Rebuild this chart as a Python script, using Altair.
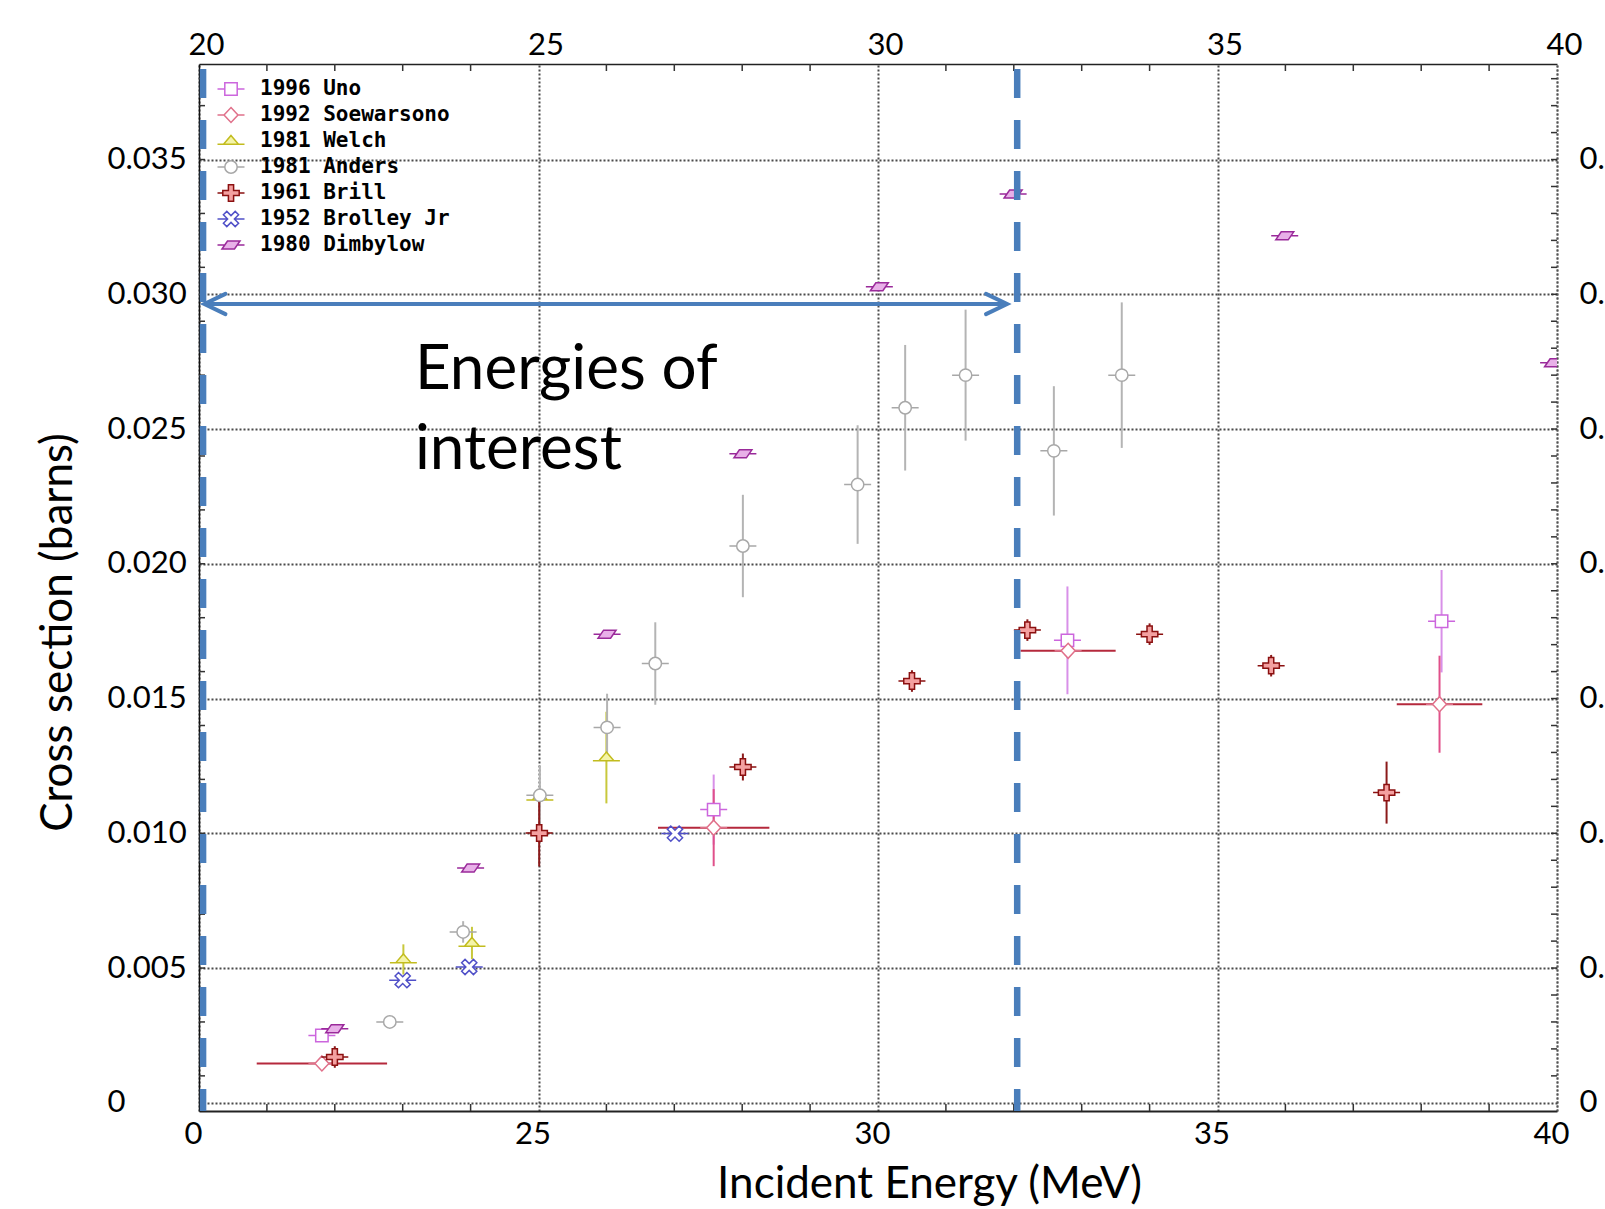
import altair as alt
import pandas as pd

# ---------------- data ----------------
SERIES = ["1996 Uno", "1992 Soewarsono", "1981 Welch", "1981 Anders",
          "1961 Brill", "1952 Brolley Jr", "1980 Dimbylow"]

uno_E = [21.81, 27.58, 32.79, 38.30]
uno_cs = [0.00250, 0.01088, 0.01716, 0.01787]
uno_dcs = [0.0, 0.0013, 0.0020, 0.0019]

soew_E = [21.81, 27.58, 32.80, 38.27]
soew_cs = [0.00146, 0.01021, 0.01677, 0.01479]
soew_dcs = [0.0, 0.00143, 0.0, 0.0018]
soew_dE = [0.96, 0.82, 0.70, 0.63]

welch_E = [23.01, 24.02, 25.02, 26.00]
welch_cs = [0.00532, 0.00593, 0.01135, 0.01281]
welch_dcs = [0.00056, 0.0006, 0.0, 0.0017]

anders_E = [22.81, 23.89, 25.02, 26.01, 26.72, 28.01, 29.70, 30.40, 31.29, 32.59, 33.59]
anders_cs = [0.0030, 0.00634, 0.01141, 0.01393, 0.0163, 0.02066, 0.02294,
             0.02579, 0.0270, 0.02419, 0.0270]
anders_dcs = [0.0, 0.0004, 0.0011, 0.00125, 0.00153, 0.0019, 0.0022,
              0.00233, 0.00243, 0.0024, 0.0027]

brill_E = [22.00, 25.01, 28.01, 30.50, 32.20, 34.00, 35.79, 37.49]
brill_cs = [0.0017, 0.01001, 0.01246, 0.01565, 0.01754, 0.01739, 0.01622, 0.01151]
brill_dcs = [0.0004, 0.00124, 0.0005, 0.0004, 0.0004, 0.0004, 0.0004, 0.00115]

brolley_E = [23.00, 23.98, 27.01]
brolley_cs = [0.00455, 0.00504, 0.00999]

dimby_E = [22.00, 24.00, 26.01, 28.01, 30.02, 31.99, 35.99, 39.95]
dimby_cs = [0.00275, 0.00871, 0.01739, 0.02408, 0.03028, 0.03372, 0.03217, 0.02746]

# annotation values
interest_E = [20.06, 32.05]           # dashed limits of the energy window
arrow_E = [20.08, 31.90]
arrow_cs = 0.02964
note_E = 23.18
note_cs = 0.02648
note_text = "Energies of\ninterest"

x_ticks = [20, 25, 30, 35, 40]
y_ticks = [0, 0.005, 0.010, 0.015, 0.020, 0.025, 0.030, 0.035]
x_minor = [21, 22, 23, 24, 26, 27, 28, 29, 31, 32, 33, 34, 36, 37, 38, 39]
y_minor = [round(0.001 * i, 3) for i in range(1, 39)]

# ---------------- table ----------------
rows = []
def add(name, E, cs, dcs=None, dE=None):
    for i in range(len(E)):
        rows.append({"series": name, "E": E[i], "cs": cs[i],
                     "dcs": dcs[i] if dcs else 0.0,
                     "dE": dE[i] if dE else 0.0})

add("1996 Uno", uno_E, uno_cs, uno_dcs)
add("1992 Soewarsono", soew_E, soew_cs, soew_dcs, soew_dE)
add("1981 Welch", welch_E, welch_cs, welch_dcs)
add("1981 Anders", anders_E, anders_cs, anders_dcs)
add("1961 Brill", brill_E, brill_cs, brill_dcs)
add("1952 Brolley Jr", brolley_E, brolley_cs)
add("1980 Dimbylow", dimby_E, dimby_cs)
df = pd.DataFrame(rows)

# ---------------- styles ----------------
W, H = 1358, 1047
FONT = "Lato"
BLUE = "#4a7ebb"

STROKES = ["#cc66dd", "#e0708a", "#c2bc1e", "#a8a8a8", "#8b1010", "#5050c8", "#9a2a9a"]
FILLS = ["#ffffff", "#ffffff", "#f4f4a8", "#ffffff", "#f4a0a0", "#ffffff", "#e8b0e8"]
ERR_KEYS = [s + " err" for s in SERIES]
ERRS = ["#d890e8", "#e0508a", "#c8c83c", "#b4b4b4", "#8b1a1a", "#6070c0", "#a040a0"]
SHAPES = [
    "M-0.62,-0.62H0.62V0.62H-0.62Z M-1.35,0H-0.62 M0.62,0H1.35",
    "M0,-0.75L0.7,0L0,0.75L-0.7,0Z M-1.35,0H-0.7 M0.7,0H1.35",
    "M0,-0.55L0.75,0.32H-0.75Z M-1.35,0.32H-0.75 M0.75,0.32H1.35",
    "M0.62,0A0.62,0.62,0,1,1,-0.62,0A0.62,0.62,0,1,1,0.62,0Z M-1.35,0H-0.62 M0.62,0H1.35",
    "M-0.26,-0.82H0.26V-0.26H0.82V0.26H0.26V0.82H-0.26V0.26H-0.82V-0.26H-0.26Z M-1.35,0H-0.82 M0.82,0H1.35",
    "M0.42,-0.76L0.76,-0.42L0.34,0L0.76,0.42L0.42,0.76L0,0.34L-0.42,0.76L-0.76,0.42L-0.34,0L-0.76,-0.42L-0.42,-0.76L0,-0.34Z M-1.35,0H-0.34 M0.34,0H1.35",
    "M-0.9,0.4L-0.35,-0.4H0.9L0.35,0.4Z M-1.35,0H-0.625 M0.625,0H1.35",
]

xs = alt.Scale(domain=[20, 40], nice=False, zero=False)
ys = alt.Scale(domain=[-0.000304, 0.038545], nice=False, zero=False)

GRID = dict(gridColor="#4a4a4a", gridDash=[2, 2], gridWidth=2)

bottom_axis = alt.Axis(orient="bottom", values=x_ticks, grid=False, ticks=False, tickSize=0,
                       labelPadding=23, labelBaseline="middle", labelOffset=-6,
                       labelExpr="datum.value == 20 ? '0' : datum.label",
                       labelFont=FONT, labelFontSize=31, labelColor="black",
                       labelFlush=False, labelOverlap=False,
                       domain=True, domainColor="#222", domainWidth=2,
                       title="Incident Energy (MeV)", titleFont=FONT, titleFontSize=44,
                       titleFontWeight="normal", titleColor="black",
                       titleX=730, titleY=73, titleAlign="center", titleBaseline="middle")
top_axis = alt.Axis(orient="top", values=x_ticks, grid=True, **GRID, ticks=False, tickSize=0,
                    labelPadding=19, labelBaseline="middle", labelOffset=7,
                    labelFont=FONT, labelFontSize=31, labelColor="black",
                    labelFlush=False, labelOverlap=False,
                    domain=True, domainColor="#222", domainWidth=1.5, title=None)
left_axis = alt.Axis(orient="left", values=y_ticks, grid=True, **GRID, ticks=False, tickSize=0,
                     labelPadding=92, labelAlign="left", labelBaseline="middle",
                     labelExpr="datum.value == 0 ? '0' : format(datum.value, '.3f')",
                     labelFont=FONT, labelFontSize=31, labelColor="black",
                     labelFlush=False, labelOverlap=False,
                     domain=True, domainColor="#111", domainWidth=1.5,
                     title="Cross section (barns)", titleFont=FONT, titleFontSize=44,
                     titleFontWeight="normal", titleColor="black", titleAngle=270,
                     titleX=-141, titleY=568, titleAlign="center", titleBaseline="middle")
right_axis = alt.Axis(orient="right", values=y_ticks, grid=False, ticks=False, tickSize=0,
                      labelPadding=22, labelAlign="left", labelBaseline="middle",
                      labelExpr="datum.value == 0 ? '0' : '0.'",
                      labelFont=FONT, labelFontSize=31, labelColor="black",
                      labelFlush=False, labelOverlap=False,
                      domain=True, domainColor="#555", domainDash=[2, 2], domainWidth=1.5,
                      title=None)

legend = alt.Legend(orient="none", legendX=21, legendY=14, title=None, padding=0,
                    labelFont="DejaVu Sans Mono", labelFontWeight="bold", labelFontSize=21,
                    labelColor="black", labelOffset=18, labelLimit=500,
                    symbolSize=400, symbolStrokeWidth=1.5, rowPadding=2,
                    gridAlign="all")

base = alt.Chart(df)

verr = base.transform_filter("datum.dcs > 0").transform_calculate(
    lo="datum.cs - datum.dcs", hi="datum.cs + datum.dcs", ekey="datum.series + ' err'"
).mark_rule(strokeWidth=2).encode(
    x=alt.X("E:Q", scale=xs, axis=bottom_axis),
    y=alt.Y("lo:Q", scale=ys, axis=left_axis),
    y2="hi:Q",
    color=alt.Color("ekey:N", scale=alt.Scale(domain=ERR_KEYS, range=ERRS), legend=None),
)

herr = base.transform_filter("datum.dE > 0").transform_calculate(
    e1="datum.E - datum.dE", e2="datum.E + datum.dE"
).mark_rule(strokeWidth=2, color="#b5293c").encode(
    x=alt.X("e1:Q", scale=xs, axis=None),
    x2="e2:Q",
    y=alt.Y("cs:Q", scale=ys, axis=None),
)

pts = base.mark_point(filled=True, size=400, strokeWidth=1.5, opacity=1, clip=True).encode(
    x=alt.X("E:Q", scale=xs, axis=top_axis),
    y=alt.Y("cs:Q", scale=ys, axis=right_axis),
    stroke=alt.Stroke("series:N", scale=alt.Scale(domain=SERIES, range=STROKES), legend=legend),
    fill=alt.Fill("series:N", scale=alt.Scale(domain=SERIES, range=FILLS), legend=legend),
    shape=alt.Shape("series:N", scale=alt.Scale(domain=SERIES, range=SHAPES), legend=legend),
)

# inward minor ticks
mx = pd.DataFrame({"E": x_minor})
my = pd.DataFrame({"cs": y_minor})
tick_top = alt.Chart(mx).mark_rule(color="#333", strokeWidth=1.5).encode(
    x=alt.X("E:Q", scale=xs, axis=None), y=alt.value(0), y2=alt.value(7))
tick_bot = alt.Chart(mx).mark_rule(color="#333", strokeWidth=1.5).encode(
    x=alt.X("E:Q", scale=xs, axis=None), y=alt.value(H), y2=alt.value(H - 7))
tick_left = alt.Chart(my).mark_rule(color="#333", strokeWidth=1.5).encode(
    y=alt.Y("cs:Q", scale=ys, axis=None), x=alt.value(0), x2=alt.value(6))
tick_right = alt.Chart(my).mark_rule(color="#333", strokeWidth=1.5).encode(
    y=alt.Y("cs:Q", scale=ys, axis=None), x=alt.value(W), x2=alt.value(W - 6))

# energy window: dashed limits, arrow, label
dash = alt.Chart(pd.DataFrame({"E": interest_E})).mark_rule(
    color=BLUE, strokeWidth=6.5, strokeDash=[29, 22], strokeDashOffset=46
).encode(x=alt.X("E:Q", scale=xs, axis=None), y=alt.value(0), y2=alt.value(H))

arr_df = pd.DataFrame({"E1": [arrow_E[0]], "E2": [arrow_E[1]], "cs": [arrow_cs]})
arrow_line = alt.Chart(arr_df).mark_rule(color=BLUE, strokeWidth=4).encode(
    x=alt.X("E1:Q", scale=xs, axis=None), x2="E2:Q", y=alt.Y("cs:Q", scale=ys, axis=None))
head_l = alt.Chart(arr_df).mark_point(
    shape="M1,-0.48L0,0L1,0.48", size=1764, filled=False, color=BLUE,
    strokeWidth=4, opacity=1, strokeCap="round", strokeJoin="miter"
).encode(x=alt.X("E1:Q", scale=xs, axis=None), y=alt.Y("cs:Q", scale=ys, axis=None))
head_r = alt.Chart(arr_df).mark_point(
    shape="M-1,-0.48L0,0L-1,0.48", size=1764, filled=False, color=BLUE,
    strokeWidth=4, opacity=1, strokeCap="round", strokeJoin="miter"
).encode(x=alt.X("E2:Q", scale=xs, axis=None), y=alt.Y("cs:Q", scale=ys, axis=None))

note = alt.Chart(pd.DataFrame({"E": [note_E], "cs": [note_cs], "t": [note_text]})).mark_text(
    font=FONT, fontSize=62, color="black", align="left", baseline="alphabetic",
    lineBreak="\n", lineHeight=80
).encode(x=alt.X("E:Q", scale=xs, axis=None), y=alt.Y("cs:Q", scale=ys, axis=None), text="t:N")

chart = alt.layer(
    verr, herr, pts, tick_top, tick_bot, tick_left, tick_right,
    dash, arrow_line, head_l, head_r, note
).properties(
    width=W, height=H,
    autosize=alt.AutoSizeParams(type="none"),
    padding={"left": 199, "top": 64, "right": 48, "bottom": 98},
    background="white",
).configure_view(stroke=None)

chart.save("out.html", embed_options={"renderer": "svg", "actions": False})
